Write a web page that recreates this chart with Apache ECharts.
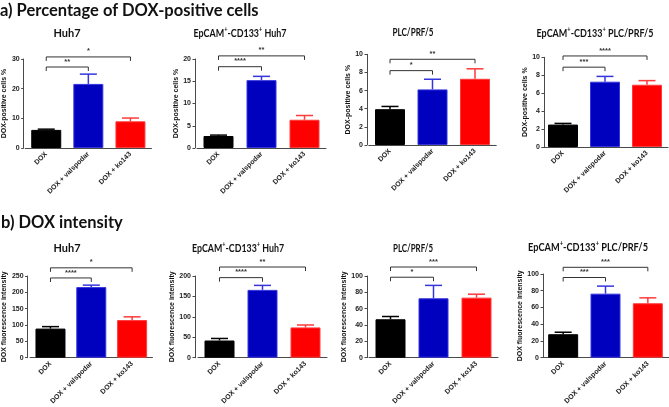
<!DOCTYPE html>
<html>
<head>
<meta charset="utf-8">
<script src="https://cdn.jsdelivr.net/npm/echarts@6/dist/echarts.min.js"></script>
<style>
html,body{margin:0;padding:0;background:#fff;}
#chart{width:669px;height:407px;}
</style>
</head>
<body>
<div id="chart"></div>
<script>
// ---------- data ----------
const categories = ['DOX', 'DOX + valspodar', 'DOX + ko143'];
const sectionTitles = ['a) Percentage of DOX-positive cells', 'b) DOX intensity'];
const panelNames = [
  ['', 'Huh7'], ['EpCAM', ' Huh7'], ['', 'PLC/PRF/5'], ['EpCAM', ' PLC/PRF/5'],
  ['', 'Huh7'], ['EpCAM', ' Huh7'], ['', 'PLC/PRF/5'], ['EpCAM', ' PLC/PRF/5']
];
const yNames = ['DOX-positive cells %', 'DOX fluorescence intensity'];

const pctHuh7       = [6.1, 21.6, 9.0];
const pctHuh7Err    = [6.35, 24.9, 10.1];
const pctEpHuh7     = [2.7, 15.25, 6.35];
const pctEpHuh7Err  = [2.9, 16.1, 7.3];
const pctPLC        = [3.95, 6.13, 7.3];
const pctPLCErr     = [4.25, 7.25, 8.4];
const pctEpPLC      = [2.5, 7.28, 6.94];
const pctEpPLCErr   = [2.63, 7.87, 7.4];
const intHuh7       = [89, 216, 115];
const intHuh7Err    = [95, 222, 125];
const intEpHuh7     = [42, 166, 74];
const intEpHuh7Err  = [47, 177, 80];
const intPLC        = [47, 72.7, 73.5];
const intPLCErr     = [50.4, 88.5, 77.7];
const intEpPLC      = [28, 76.5, 65];
const intEpPLCErr   = [30.4, 85.5, 71.5];

const yMax  = [30, 20, 10, 10, 250, 200, 100, 100];
const yStep = [10, 5, 2, 2, 50, 50, 20, 20];

// significance brackets: inner = DOX vs DOX + valspodar, outer = DOX vs DOX + ko143
const sigInnerLabel = ['**', '****', '*', '***', '****', '****', '*', '***'];
const sigOuterLabel = ['*', '**', '**', '****', '*', '**', '***', '***'];
const sigInnerLevel = [27.3, 18.27, 8.2, 8.9, 244, 196, 98.5, 95.8];
const sigOuterLevel = [30.7, 20.7, 9.45, 10.15, 275, 222, 111, 108];

// ---------- layout / style ----------
const values = [pctHuh7, pctEpHuh7, pctPLC, pctEpPLC, intHuh7, intEpHuh7, intPLC, intEpPLC];
const errs = [pctHuh7Err, pctEpHuh7Err, pctPLCErr, pctEpPLCErr, intHuh7Err, intEpHuh7Err, intPLCErr, intEpPLCErr];
// [left, top, width, height, yAxisX]
const boxes = [
  [22.5, 59, 129, 89, 21],
  [197, 59, 129, 89, 195],
  [368.75, 54.3, 127.5, 90.7, 367],
  [542, 57.3, 126, 89.7, 544],
  [23.5, 276, 129, 86, 21],
  [198, 276, 129, 85, 195],
  [369, 276, 129, 86, 367],
  [542, 274, 127, 87, 543]
];
const titlePos = [[67, 33], [240, 33], [413, 32], [595, 33], [67, 248], [238, 248], [413, 248], [588, 247]];
const titleWidth = [28, 93, 41, 117, 27, 92, 40, 120];
const fills = ['#000000', '#0000bf', '#ff0000'];
const borders = ['#000000', '#3535dd', '#ff3a3a'];
const axisColor = '#4a4a4a';
const smallFont = 'Liberation Sans, Arial, sans-serif';
const titleFont = 'Lato, Open Sans, sans-serif';
const TFS = 11, SFS = 7;

const mctx = document.createElement('canvas').getContext('2d');
function tw(text, size) { mctx.font = 'bold ' + size + 'px ' + titleFont; return mctx.measureText(text).width; }

const grid = [], xAxis = [], yAxis = [], series = [], graphic = [];

for (let i = 0; i < 8; i++) {
  const b = boxes[i];
  grid.push({left: b[0], top: b[1], width: b[2], height: b[3], containLabel: false});
  xAxis.push({
    type: 'category', gridIndex: i, data: categories,
    axisLine: {lineStyle: {color: axisColor, width: 1}},
    axisTick: {alignWithLabel: true, length: 3, lineStyle: {color: axisColor}},
    axisLabel: {rotate: 45, fontSize: 7, fontWeight: 'bold', color: '#222', fontFamily: smallFont, margin: 5, interval: 0}
  });
  yAxis.push({
    type: 'value', gridIndex: i, min: 0, max: yMax[i], interval: yStep[i],
    offset: b[0] - b[4],
    name: yNames[i < 4 ? 0 : 1], nameLocation: 'middle', nameRotate: 90, nameGap: 12,
    nameTextStyle: {fontSize: 7, fontWeight: 'bold', color: '#111', fontFamily: smallFont},
    axisLine: {show: true, lineStyle: {color: axisColor, width: 1}},
    axisTick: {show: true, length: 2.5, lineStyle: {color: axisColor}},
    axisLabel: {fontSize: 7, fontWeight: 'bold', color: '#222', fontFamily: smallFont, margin: 4},
    splitLine: {show: false}
  });
  series.push({
    type: 'bar', xAxisIndex: i, yAxisIndex: i, barWidth: 30,
    data: values[i].map((v, k) => ({value: v, itemStyle: {color: fills[k], borderColor: borders[k], borderWidth: 1}})),
    silent: true, animation: false
  });
  const vals = values[i], es = errs[i];
  series.push({
    type: 'custom', xAxisIndex: i, yAxisIndex: i, animation: false, silent: true,
    data: vals.map((v, k) => [k, v, es[k]]),
    renderItem: function (params, api) {
      const k = api.value(0);
      const p0 = api.coord([k, api.value(1)]);
      const p1 = api.coord([k, api.value(2)]);
      const c = borders[k];
      return {type: 'group', children: [
        {type: 'line', shape: {x1: p0[0], y1: p0[1], x2: p1[0], y2: p1[1]}, style: {stroke: c, lineWidth: 1.5}},
        {type: 'line', shape: {x1: p1[0] - 8.5, y1: p1[1], x2: p1[0] + 8.5, y2: p1[1]}, style: {stroke: c, lineWidth: 1.5}}
      ]};
    }
  });
  const labs = [sigInnerLabel[i], sigOuterLabel[i]];
  series.push({
    type: 'custom', xAxisIndex: i, yAxisIndex: i, animation: false, silent: true, clip: false,
    data: [[0, 1, sigInnerLevel[i]], [0, 2, sigOuterLevel[i]]],
    renderItem: function (params, api) {
      const a = api.coord([api.value(0), api.value(2)]);
      const c = api.coord([api.value(1), api.value(2)]);
      const drop = 4;
      return {type: 'group', children: [
        {type: 'polyline', shape: {points: [[a[0], a[1] + drop], [a[0], a[1]], [c[0], c[1]], [c[0], c[1] + drop]]},
         style: {stroke: '#333', lineWidth: 1, fill: null}},
        {type: 'text', style: {text: labs[params.dataIndex], x: (a[0] + c[0]) / 2, y: a[1] - 1.5,
          textAlign: 'center', textVerticalAlign: 'bottom', fontSize: 7.5, fontWeight: 'bold', fill: '#333', fontFamily: smallFont}}
      ]};
    }
  });
  const nm = panelNames[i];
  let rt, w;
  if (nm[0]) {
    rt = '{n|' + nm[0] + '}{s|+}{n|-CD133}{s|+}{n|' + nm[1] + '}';
    w = tw(nm[0], TFS) + tw('-CD133', TFS) + tw(nm[1], TFS) + 2 * tw('+', SFS);
  } else {
    rt = '{n|' + nm[1] + '}';
    w = tw(nm[1], TFS);
  }
  const sx = Math.min(1, titleWidth[i] / w);
  graphic.push({
    type: 'text', x: titlePos[i][0], y: titlePos[i][1], scaleX: sx, silent: true,
    style: {text: rt, textAlign: 'center', textVerticalAlign: 'middle',
      rich: {
        n: {fontSize: TFS, fontWeight: 'bold', fontFamily: titleFont, fill: '#111', lineHeight: 14},
        s: {fontSize: SFS, fontWeight: 'bold', fontFamily: titleFont, fill: '#111', lineHeight: 14, verticalAlign: 'top'}
      }}
  });
}
graphic.push({type: 'text', x: 0, y: 11, silent: true,
  style: {text: sectionTitles[0], textVerticalAlign: 'middle', fontSize: 16.5, fontWeight: 'bold', fontFamily: titleFont, fill: '#111'}});
graphic.push({type: 'text', x: 1, y: 223, silent: true,
  style: {text: sectionTitles[1], textVerticalAlign: 'middle', fontSize: 16.5, fontWeight: 'bold', fontFamily: titleFont, fill: '#111'}});

const chart = echarts.init(document.getElementById('chart'), null, {renderer: 'canvas'});
chart.setOption({backgroundColor: '#fff', animation: false, grid, xAxis, yAxis, series, graphic});
</script>
</body>
</html>
